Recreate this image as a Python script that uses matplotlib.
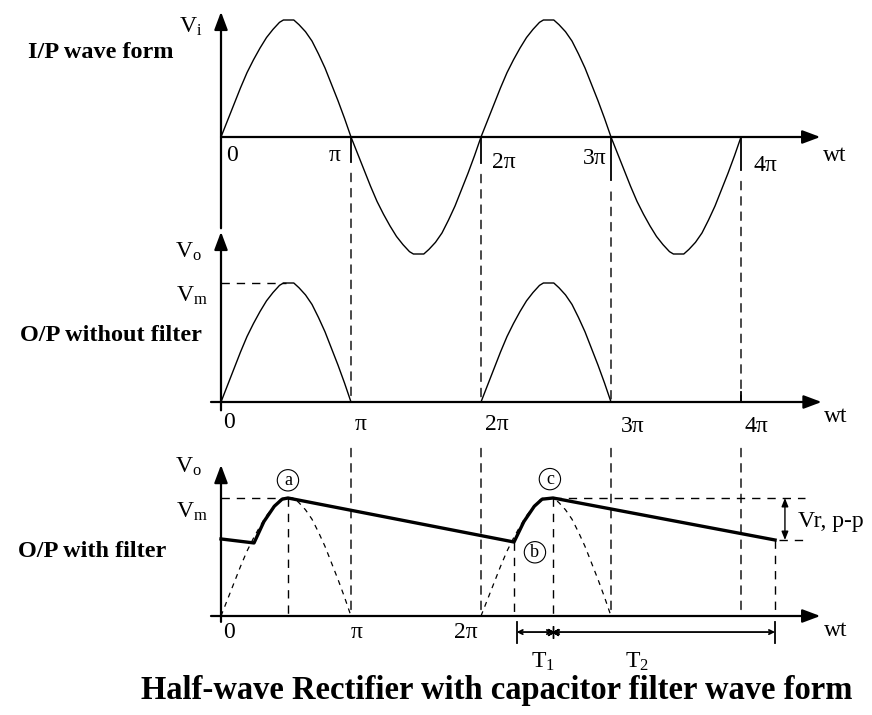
import matplotlib
matplotlib.use("Agg")
import matplotlib.pyplot as plt
from matplotlib.patches import ConnectionPatch
import numpy as np

plt.rcParams["font.family"] = ["Liberation Serif", "DejaVu Serif"]
plt.rcParams["mathtext.fontset"] = "custom"
plt.rcParams["mathtext.rm"] = "Liberation Serif"
plt.rcParams["mathtext.it"] = "Liberation Serif"

# one half cycle of the drawn sine, phase in units of pi, value in units of Vm
half_phase = [0, 0.05, 0.1, 0.15, 0.2, 0.25, 0.3, 0.35, 0.4, 0.45, 0.48, 0.56,
              0.6, 0.65, 0.7, 0.75, 0.8, 0.85, 0.9, 0.95, 1.0]
half_value = [0, 0.14, 0.28, 0.42, 0.55, 0.66, 0.76, 0.85, 0.92, 0.98, 1.0, 1.0,
              0.96, 0.9, 0.82, 0.71, 0.59, 0.45, 0.31, 0.16, 0]

input_cycles = [0, 1, 2, 3]          # half cycles of the input (even = positive)
output_cycles = [0, 2]               # half cycles passed by the diode

# capacitor filter output (wt in pi, value in Vm)
filter_wt = [0, 0.254, 0.33, 0.41, 0.47, 0.515, 2.254, 2.33, 2.41, 2.47, 2.554, 4.262]
filter_v = [0.653, 0.619, 0.80, 0.93, 0.99, 1.0, 0.627, 0.80, 0.93, 0.99, 1.0, 0.644]

grid_marks = [1, 2, 3, 4]
pi_labels = ["0", "\u03c0", "2\u03c0", "3\u03c0", "4\u03c0"]

# layout (pixels)
W, H = 872, 715
X0, PX_PI = 221, 130
panels = {"top": (137, 117), "mid": (402, 119), "bot": (616, 118)}

LBL = 17      # tick / symbol labels
SIDE = 17.5   # bold panel names

fig = plt.figure(figsize=(W / 100, H / 100), dpi=100)
axs = {}
for name, (base, amp) in panels.items():
    ax = fig.add_axes([0, 0, 1, 1])
    ax.set_xlim(-X0 / PX_PI, (W - X0) / PX_PI)
    ax.set_ylim((base - H) / amp, base / amp)
    ax.axis("off")
    ax.patch.set_alpha(0)
    axs[name] = ax
top, mid, bot = axs["top"], axs["mid"], axs["bot"]

DASH = (0, (6, 5))
FINE = (0, (4, 4))


def axis_arrow(ax, start, tip):
    ax.annotate("", xy=tip, xytext=start,
                arrowprops=dict(arrowstyle="-|>,head_length=0.8,head_width=0.3",
                                color="black", lw=1.6, mutation_scale=13.5,
                                shrinkA=0, shrinkB=0))


def link(axA, pA, axB, pB, ls=DASH, lw=1.0):
    con = ConnectionPatch(xyA=pA, coordsA=axA.transData, xyB=pB, coordsB=axB.transData,
                          color="black", lw=lw, linestyle=ls)
    fig.add_artist(con)


def half_wave(k):
    x = np.array(half_phase) + k
    y = np.array(half_value) * (1 if k % 2 == 0 else -1)
    return x, y


# ---------------- top: input wave ----------------
axis_arrow(top, (0, -0.78), (0, 1.07))
axis_arrow(top, (0, 0), (4.61, 0))
for k in input_cycles:
    x, y = half_wave(k)
    top.plot(x, y, color="black", lw=1.0)
tick_len = {1: 0.21, 2: 0.22, 3: 0.37, 4: 0.28}
for m in grid_marks:
    top.plot([m, m], [0, -tick_len[m]], color="black", lw=1.3)
    link(top, (m, -tick_len[m] - 0.1), mid, (m, 0))
    link(mid, (m, -0.39), bot, (m, 0))

top.text(-0.923, 0.718, "I/P wave form", fontsize=SIDE, fontweight="bold", ha="center", va="center")
top.text(-0.23, 0.94, "V$_\\mathrm{i}$", fontsize=LBL, ha="center", va="center")
for lbl, (x, y) in zip(pi_labels, [(0.085, -0.154), (0.877, -0.154), (2.177, -0.22),
                                   (2.877, -0.18), (4.19, -0.24)]):
    top.text(x, y, lbl, fontsize=LBL, ha="center", va="center")
top.text(4.72, -0.154, "wt", fontsize=LBL, ha="center", va="center")

# ---------------- middle: output without filter ----------------
axis_arrow(mid, (0, -0.07), (0, 1.43))
axis_arrow(mid, (-0.077, 0), (4.62, 0))
for k in output_cycles:
    x, y = half_wave(k)
    mid.plot(x, y, color="black", lw=1.0)
mid.plot([0, 0.5], [1, 1], color="black", lw=1.0, linestyle=DASH)
mid.plot([4, 4], [0, 0.08], color="black", lw=1.3)

mid.text(-0.846, 0.563, "O/P without filter", fontsize=SIDE, fontweight="bold", ha="center", va="center")
mid.text(-0.254, 1.26, "V$_\\mathrm{o}$", fontsize=LBL, ha="center", va="center")
mid.text(-0.223, 0.89, "V$_\\mathrm{m}$", fontsize=LBL, ha="center", va="center")
for lbl, (x, y) in zip(pi_labels, [(0.06, -0.176), (1.07, -0.193), (2.12, -0.193),
                                   (3.17, -0.21), (4.12, -0.21)]):
    mid.text(x, y, lbl, fontsize=LBL, ha="center", va="center")
mid.text(4.73, -0.126, "wt", fontsize=LBL, ha="center", va="center")

# ---------------- bottom: output with capacitor filter ----------------
axis_arrow(bot, (0, -0.05), (0, 1.28))
axis_arrow(bot, (-0.077, 0), (4.61, 0))
for k in output_cycles:
    x, y = half_wave(k)
    bot.plot(x, y, color="black", lw=0.9, linestyle=FINE)
bot.plot(filter_wt, filter_v, color="black", lw=2.4, solid_joinstyle="round")

peak_a, valley_b, peak_c, end_pt = 5, 6, 10, 11
bot.plot([0, filter_wt[peak_a]], [1, 1], color="black", lw=1.0, linestyle=DASH)
for i in (peak_a, valley_b, peak_c, end_pt):
    bot.plot([filter_wt[i], filter_wt[i]], [filter_v[i], 0], color="black", lw=1.0, linestyle=DASH)

# ripple voltage
vr_x = 4.338
bot.plot([filter_wt[peak_c], 4.49], [1, 1], color="black", lw=1.0, linestyle=DASH)
bot.plot([filter_wt[end_pt] + 0.03, 4.49], [filter_v[end_pt]] * 2, color="black", lw=1.0, linestyle=DASH)
bot.annotate("", xy=(vr_x, 1), xytext=(vr_x, filter_v[end_pt]),
             arrowprops=dict(arrowstyle="<|-|>,head_length=0.5,head_width=0.2",
                             color="black", lw=1.0, mutation_scale=10, shrinkA=0, shrinkB=0))
bot.text(4.69, 0.8, "Vr, p-p", fontsize=LBL, ha="center", va="center")

# T1 / T2 spans
ty = -0.136
for x in (filter_wt[valley_b] + 0.02, filter_wt[end_pt]):
    bot.plot([x, x], [-0.05, -0.23], color="black", lw=1.3)
for a, b in ((filter_wt[valley_b] + 0.02, filter_wt[peak_c]), (filter_wt[peak_c], filter_wt[end_pt])):
    bot.annotate("", xy=(b, ty), xytext=(a, ty),
                 arrowprops=dict(arrowstyle="<->,head_length=0.3,head_width=0.15",
                                 color="black", lw=1.3, mutation_scale=10, shrinkA=0, shrinkB=0))
bot.plot([filter_wt[peak_c]], [ty], marker=(6, 2, 0), color="black", ms=9, mew=1.0)
bot.text(2.477, -0.39, "T$_\\mathrm{1}$", fontsize=LBL, ha="center", va="center")
bot.text(3.2, -0.39, "T$_\\mathrm{2}$", fontsize=LBL, ha="center", va="center")

circ = dict(boxstyle="circle,pad=0.12", fc="white", ec="black", lw=0.8)
bot.text(filter_wt[peak_a], 1.15, "a", fontsize=13, ha="center", va="center", bbox=circ)
bot.text(2.53, 1.16, "c", fontsize=13, ha="center", va="center", bbox=circ)
bot.text(2.415, 0.54, "b", fontsize=13, ha="center", va="center", bbox=circ)

bot.text(-0.992, 0.55, "O/P with filter", fontsize=SIDE, fontweight="bold", ha="center", va="center")
bot.text(-0.254, 1.263, "V$_\\mathrm{o}$", fontsize=LBL, ha="center", va="center")
bot.text(-0.223, 0.88, "V$_\\mathrm{m}$", fontsize=LBL, ha="center", va="center")
for lbl, (x, y) in zip(pi_labels[:3], [(0.06, -0.144), (1.046, -0.144), (1.885, -0.144)]):
    bot.text(x, y, lbl, fontsize=LBL, ha="center", va="center")
bot.text(4.73, -0.119, "wt", fontsize=LBL, ha="center", va="center")

bot.text(2.123, -0.635, "Half-wave Rectifier with capacitor filter wave form",
         fontsize=23.5, fontweight="bold", ha="center", va="center")

fig.savefig("out.png", dpi=100)
